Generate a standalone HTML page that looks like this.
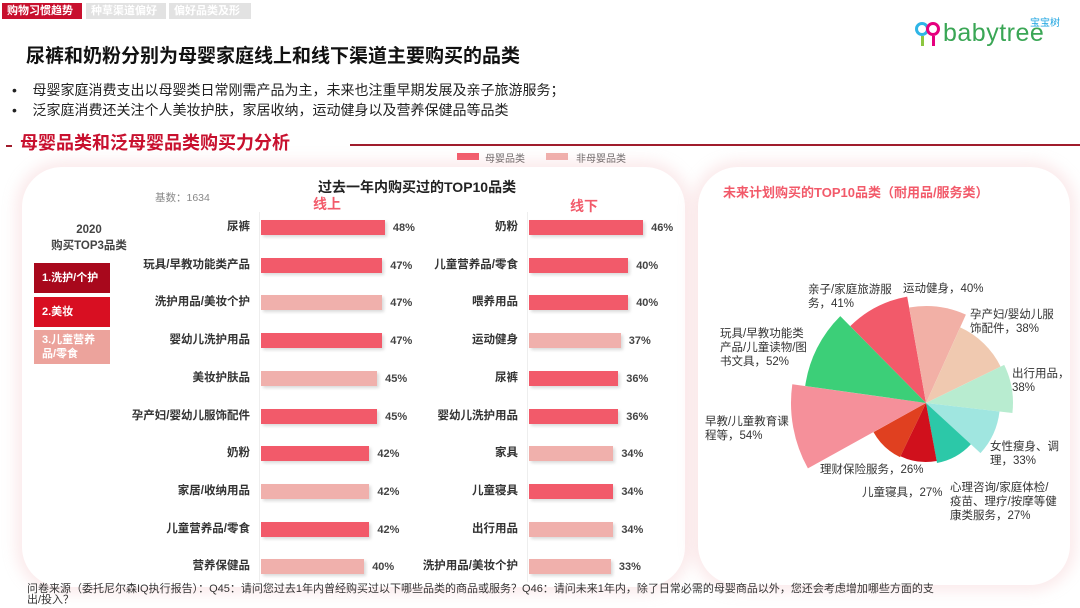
<!DOCTYPE html>
<html><head><meta charset="utf-8"><style>
*{margin:0;padding:0;box-sizing:border-box}
body{width:1080px;height:608px;background:#fff;position:relative;overflow:hidden;font-family:"Liberation Sans","Noto Sans CJK SC",sans-serif;color:#333}
.a{position:absolute;white-space:nowrap}
.tab{position:absolute;top:3px;height:16px;font-size:11px;font-weight:bold;color:#fff;line-height:16px;padding:0 5px}
.panel{position:absolute;background:#fff;border-radius:40px;box-shadow:0 0 14px 6px rgba(240,170,175,0.25)}
.lab{position:absolute;font-size:11.5px;color:#333;text-align:right;width:240px;font-weight:bold;line-height:16px}
.bar{position:absolute;height:15px;box-shadow:2px 2px 3px rgba(0,0,0,0.15)}
.val{position:absolute;font-size:11px;font-weight:bold;color:#444;line-height:16px}
.pl{position:absolute;font-size:11.5px;color:#333;line-height:14px}
</style></head><body>
<div class="tab" style="left:2px;background:#c8102e;width:80px">购物习惯趋势</div>
<div class="tab" style="left:86px;background:#e2e2e2;width:80px">种草渠道偏好</div>
<div class="tab" style="left:169px;background:#e2e2e2;width:82px">偏好品类及形式</div>

<div class="a" style="left:915px;top:22px;width:14px;height:14px;border:3px solid #2fb5e6;border-radius:50%"></div>
<div class="a" style="left:926px;top:22px;width:14px;height:14px;border:3px solid #e6007e;border-radius:50%"></div>
<div class="a" style="left:921px;top:36px;width:3px;height:10px;background:#8cc63f"></div>
<div class="a" style="left:932px;top:36px;width:3px;height:10px;background:#e6007e"></div>
<div class="a" style="left:943px;top:19px;font-size:25px;color:#3aa655;letter-spacing:0.5px">babytree</div>
<div class="a" style="left:1030px;top:14px;font-size:10px;color:#1aa3e0">宝宝树</div>

<div class="a" style="left:26px;top:41px;font-size:19px;font-weight:bold;color:#111">尿裤和奶粉分别为母婴家庭线上和线下渠道主要购买的品类</div>
<div class="a" style="left:12px;top:80px;font-size:14px;color:#222;line-height:20px">•&nbsp;&nbsp;&nbsp;&nbsp;母婴家庭消费支出以母婴类日常刚需产品为主，未来也注重早期发展及亲子旅游服务；<br>•&nbsp;&nbsp;&nbsp;&nbsp;泛家庭消费还关注个人美妆护肤，家居收纳，运动健身以及营养保健品等品类</div>
<div class="a" style="left:6px;top:145px;width:6px;height:2px;background:#a01c2c"></div>
<div class="a" style="left:20px;top:129px;font-size:18px;font-weight:bold;color:#c8102e">母婴品类和泛母婴品类购买力分析</div>
<div class="a" style="left:350px;top:144px;width:730px;height:2px;background:#a01c2c"></div>
<div class="a" style="left:457px;top:153px;width:22px;height:7px;background:#f25a6a"></div>
<div class="a" style="left:485px;top:150px;font-size:10px;color:#666">母婴品类</div>
<div class="a" style="left:546px;top:153px;width:22px;height:7px;background:#f0b0ac"></div>
<div class="a" style="left:576px;top:150px;font-size:10px;color:#666">非母婴品类</div>

<div class="panel" style="left:22px;top:167px;width:663px;height:420px"></div>
<div class="panel" style="left:698px;top:167px;width:372px;height:418px"></div>

<div class="a" style="left:318px;top:177px;font-size:14px;font-weight:bold;color:#222">过去一年内购买过的TOP10品类</div>
<div class="a" style="left:155px;top:190px;font-size:10.5px;color:#888">基数：1634</div>
<div class="a" style="left:313px;top:194px;font-size:14px;font-weight:bold;color:#f25a6a">线上</div>
<div class="a" style="left:570px;top:196px;font-size:14px;font-weight:bold;color:#f25a6a">线下</div>
<div class="a" style="left:34px;top:222px;width:110px;text-align:center;font-size:11.5px;font-weight:bold;color:#444;line-height:16px">2020<br>购买TOP3品类</div>
<div class="a" style="left:34px;top:263px;width:76px;height:30px;background:#a8081c;color:#fff;font-size:11px;font-weight:bold;line-height:30px;padding-left:8px">1.洗护/个护</div>
<div class="a" style="left:34px;top:297px;width:76px;height:30px;background:#d80f22;color:#fff;font-size:11px;font-weight:bold;line-height:30px;padding-left:8px">2.美妆</div>
<div class="a" style="left:34px;top:330px;width:76px;height:34px;background:#eca39c;color:#fff;font-size:11px;font-weight:bold;line-height:14px;padding:3px 0 0 8px">3.儿童营养<br>品/零食</div>
<div class="a" style="left:259px;top:212px;width:1px;height:370px;background:#eee"></div>
<div class="a" style="left:527px;top:212px;width:1px;height:370px;background:#eee"></div>
<div id="bars"></div>

<div class="a" style="left:723px;top:182px;font-size:13px;font-weight:bold;color:#f25a6a">未来计划购买的TOP10品类（耐用品/服务类）</div>
<svg class="a" style="left:0;top:0" width="1080" height="608" id="pie"></svg>
<div class="pl" style="left:808px;top:283px">亲子/家庭旅游服<br>务，41%</div>
<div class="pl" style="left:903px;top:282px">运动健身，40%</div>
<div class="pl" style="left:970px;top:308px">孕产妇/婴幼儿服<br>饰配件，38%</div>
<div class="pl" style="left:1012px;top:367px">出行用品，<br>38%</div>
<div class="pl" style="left:720px;top:327px">玩具/早教功能类<br>产品/儿童读物/图<br>书文具，52%</div>
<div class="pl" style="left:705px;top:415px">早教/儿童教育课<br>程等，54%</div>
<div class="pl" style="left:990px;top:440px">女性瘦身、调<br>理，33%</div>
<div class="pl" style="left:820px;top:463px">理财保险服务，26%</div>
<div class="pl" style="left:862px;top:486px">儿童寝具，27%</div>
<div class="pl" style="left:950px;top:481px">心理咨询/家庭体检/<br>疫苗、理疗/按摩等健<br>康类服务，27%</div>

<div class="a" style="left:27px;top:584px;font-size:11px;color:#333;line-height:11px">问卷来源（委托尼尔森IQ执行报告）：Q45：请问您过去1年内曾经购买过以下哪些品类的商品或服务？Q46：请问未来1年内，除了日常必需的母婴商品以外，您还会考虑增加哪些方面的支<br>出/投入？</div>

<script>
var P='#f25a6a',N='#f0b0ac';
var L=[['尿裤',48,P],['玩具/早教功能类产品',47,P],['洗护用品/美妆个护',47,N],['婴幼儿洗护用品',47,P],['美妆护肤品',45,N],['孕产妇/婴幼儿服饰配件',45,P],['奶粉',42,P],['家居/收纳用品',42,N],['儿童营养品/零食',42,P],['营养保健品',40,N]];
var R=[['奶粉',46,P],['儿童营养品/零食',40,P],['喂养用品',40,P],['运动健身',37,N],['尿裤',36,P],['婴幼儿洗护用品',36,P],['家具',34,N],['儿童寝具',34,P],['出行用品',34,N],['洗护用品/美妆个护',33,N]];
var h='';
for(var i=0;i<10;i++){var y=227+i*37.7;
var a=L[i];h+='<div class="lab" style="left:10px;top:'+(y-8)+'px">'+a[0]+'</div><div class="bar" style="left:261px;top:'+(y-7)+'px;width:'+(a[1]*2.58)+'px;background:'+a[2]+'"></div><div class="val" style="left:'+(261+a[1]*2.58+8)+'px;top:'+(y-7)+'px">'+a[1]+'%</div>';
a=R[i];h+='<div class="lab" style="left:278px;top:'+(y-8)+'px">'+a[0]+'</div><div class="bar" style="left:529px;top:'+(y-7)+'px;width:'+(a[1]*2.48)+'px;background:'+a[2]+'"></div><div class="val" style="left:'+(529+a[1]*2.48+8)+'px;top:'+(y-7)+'px">'+a[1]+'%</div>';}
document.getElementById('bars').innerHTML=h;
var cx=926,cy=403;
var S=[[-134.6,-100,108,'#f25a6a'],[-100,-65.7,97,'#f2b0a6'],[-65.7,-26,83,'#f0c9b0'],[-26,6.6,87,'#b8ecd0'],[6.6,42.6,74,'#a0e6e0'],[42.6,79.6,61,'#2cc8a8'],[79.6,115.7,59,'#d0101c'],[115.7,151,60,'#e04020'],[151,188,135,'#f5909a'],[188,225.4,122,'#3ccf78']];
var s='';
S.forEach(function(t){var a1=t[0]*Math.PI/180,a2=t[1]*Math.PI/180,r=t[2];
s+='<path d="M'+cx+','+cy+' L'+(cx+r*Math.cos(a1)).toFixed(1)+','+(cy+r*Math.sin(a1)).toFixed(1)+' A'+r+','+r+' 0 0 1 '+(cx+r*Math.cos(a2)).toFixed(1)+','+(cy+r*Math.sin(a2)).toFixed(1)+' Z" fill="'+t[3]+'"/>';});
document.getElementById('pie').innerHTML=s;
</script>
</body></html>
